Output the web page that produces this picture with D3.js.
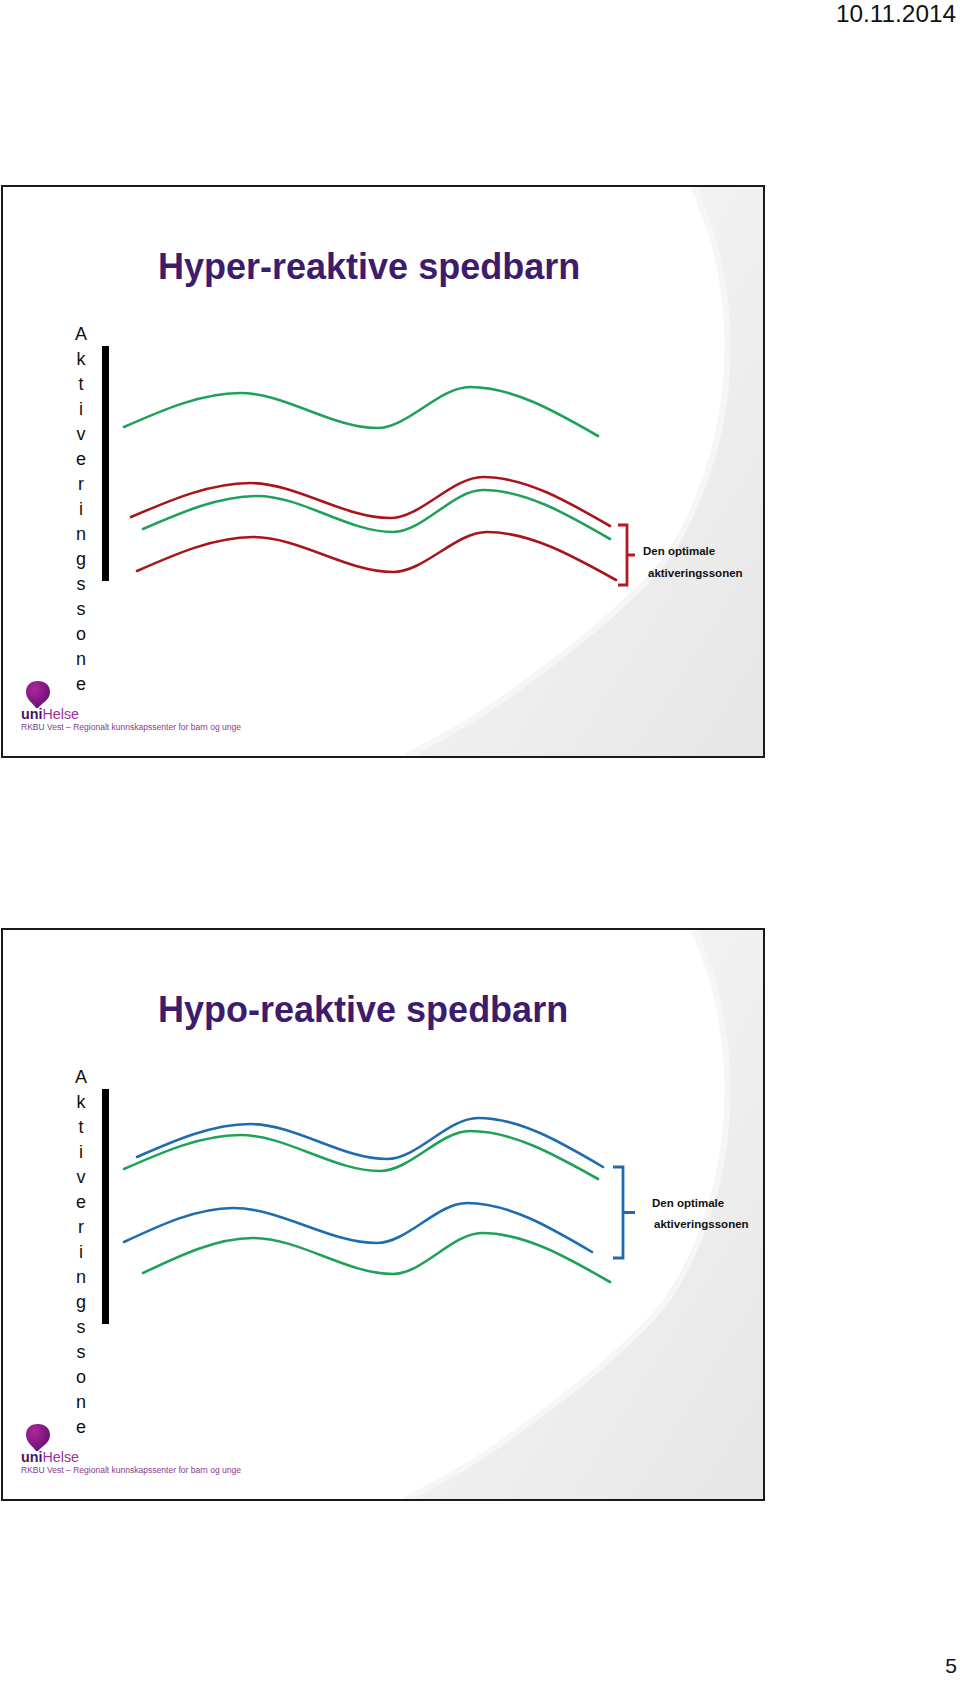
<!DOCTYPE html>
<html><head><meta charset="utf-8">
<script src="https://cdn.jsdelivr.net/npm/d3@7"></script>
<style>html,body{margin:0;padding:0;background:#fff;} svg{display:block;}</style>
</head><body><div id="chart"></div>
<script>
// ---------- texts ----------
const dateLabel = "10.11.2014";
const pageLabel = "5";
const panelTitles = ["Hyper-reaktive spedbarn", "Hypo-reaktive spedbarn"];
const axisLetters = "Aktiveringssone".split("");
const zoneLabels = ["Den optimale", "aktiveringssonen"];
const logoWords = ["uni", "Helse"];
const logoSubtitle = "RKBU Vest \u2013 Regionalt kunnskapssenter for barn og unge";

// ---------- data: [time position (0-500), activation level (0 = foot of axis bar, 235 = top)] ----------
const hyperGreenHigh = [[4,154],[120,188],[257,153],[350,194],[478,145]];
const hyperRedUpper  = [[11,64],[130,98],[270,63],[363,104],[490,55]];
const hyperGreenMid  = [[23,52],[137,85],[273,49],[363,91],[490,42]];
const hyperRedLower  = [[17,10],[133,44],[273,9],[367,49],[496,1]];
const hypoBlueUpper  = [[17,167],[130,200],[267,165],[358,206],[483,157]];
const hypoGreenUpper = [[4,155],[120,189],[260,153],[350,193],[478,145]];
const hypoBlueLower  = [[4,82],[113,116],[257,81],[347,121],[472,72]];
const hypoGreenLower = [[23,51],[133,86],[273,50],[362,91],[490,42]];
const hyperZone = [-4, 56];
const hypoZone  = [66, 157];

// ---------- colours ----------
const GREEN = "#1fa257", RED = "#a8161c", BLUE = "#1e6cb0", TITLE = "#3d1c6e";

const panels = [
  { dy: 0, title: panelTitles[0], series: [[hyperGreenHigh, GREEN],[hyperRedUpper, RED],[hyperGreenMid, GREEN],[hyperRedLower, RED]],
    zone: hyperZone, zoneColor: "#b01c22", brX: [618, 627, 635], labelX: [643, 648], labelDy: [0, 22] },
  { dy: 743, title: panelTitles[1], series: [[hypoBlueUpper, BLUE],[hypoGreenUpper, GREEN],[hypoBlueLower, BLUE],[hypoGreenLower, GREEN]],
    zone: hypoZone, zoneColor: "#1e6cb0", brX: [613, 623, 635], labelX: [652, 654], labelDy: [-5.5, 15.5] }
];

const W = 960, H = 1684;
const svg = d3.select("#chart").append("svg").attr("width", W).attr("height", H)
  .style("font-family", "'Liberation Sans', Arial, sans-serif");
svg.append("rect").attr("width", W).attr("height", H).attr("fill", "#fff");

const defs = svg.append("defs");
const cg = defs.append("linearGradient").attr("id", "curl").attr("x1", "0").attr("y1", "0").attr("x2", "1").attr("y2", "1");
cg.append("stop").attr("offset", "0").attr("stop-color", "#fbfbfb");
cg.append("stop").attr("offset", "0.5").attr("stop-color", "#f0f0f0");
cg.append("stop").attr("offset", "1").attr("stop-color", "#e6e6e6");
const bg = defs.append("radialGradient").attr("id", "balloon").attr("cx", "0.35").attr("cy", "0.3").attr("r", "0.8");
bg.append("stop").attr("offset", "0").attr("stop-color", "#b0279c");
bg.append("stop").attr("offset", "1").attr("stop-color", "#5d0f6e");

// header / footer
svg.append("text").attr("x", 956).attr("y", 22).attr("text-anchor", "end")
  .attr("font-size", 24).attr("fill", "#111").attr("textLength", 120).attr("lengthAdjust", "spacingAndGlyphs").text(dateLabel);
svg.append("text").attr("x", 957).attr("y", 1673).attr("text-anchor", "end")
  .attr("font-size", 21).attr("fill", "#111").text(pageLabel);

const x = d3.scaleLinear().domain([0, 500]).range([120, 620]);
const y = d3.scaleLinear().domain([0, 235]).range([581, 346]);
const line = d3.line().x(d => x(d[0])).y(d => y(d[1])).curve(d3.curveMonotoneX);

const curlPts = [[694,187],[715,247],[727,324],[724,400],[706,477],[669,554],[614,612],[553,662],[479,715],[405,757]];

panels.forEach(p => {
  const g = svg.append("g").attr("transform", `translate(0,${p.dy})`);
  // page curl background
  const curl = d3.line().curve(d3.curveCatmullRom)(curlPts);
  g.append("path").attr("d", curl + " L764,757 L764,187 Z").attr("fill", "url(#curl)");
  g.append("path").attr("d", curl).attr("fill", "none").attr("stroke", "#f6f6f6").attr("stroke-width", 6);
  // frame
  g.append("rect").attr("x", 2).attr("y", 186).attr("width", 762).attr("height", 571)
    .attr("fill", "none").attr("stroke", "#1a1a1a").attr("stroke-width", 2);
  // title
  g.append("text").attr("x", 158).attr("y", 279).attr("font-size", 36).attr("font-weight", "bold")
    .attr("fill", TITLE).text(p.title);
  // vertical axis label
  g.selectAll("text.ax").data(axisLetters).join("text").attr("class", "ax")
    .attr("x", 81).attr("y", (d, i) => 340 + i * 25).attr("text-anchor", "middle")
    .attr("font-size", 18).attr("fill", "#111").text(d => d);
  // axis bar
  g.append("rect").attr("x", 102).attr("y", y(235)).attr("width", 7).attr("height", y(0) - y(235)).attr("fill", "#000");
  // curves
  p.series.forEach(([data, col]) => {
    g.append("path").datum(data).attr("d", line).attr("fill", "none")
      .attr("stroke", col).attr("stroke-width", 2.6).attr("stroke-linecap", "round");
  });
  // bracket
  const yt = y(p.zone[1]), yb = y(p.zone[0]), ym = (yt + yb) / 2;
  const [bx0, bx1, bx2] = p.brX;
  g.append("path").attr("d", `M${bx0},${yt} H${bx1} V${yb} H${bx0} M${bx1},${ym} H${bx2}`)
    .attr("fill", "none").attr("stroke", p.zoneColor).attr("stroke-width", 2.8);
  zoneLabels.forEach((t, i) => {
    g.append("text").attr("x", p.labelX[i]).attr("y", ym + p.labelDy[i]).attr("font-size", 11.5)
      .attr("font-weight", "bold").attr("fill", "#111").text(t);
  });
  // logo
  g.append("path").attr("d", "M36,708 C34,704 26,700 26,692 C26,684 32,681 38,681 C45,681 50,685 50,692 C50,700 42,703 38,708 Z")
    .attr("fill", "url(#balloon)");
  const lt = g.append("text").attr("x", 21).attr("y", 719).attr("font-size", 14).attr("textLength", 58).attr("lengthAdjust", "spacingAndGlyphs");
  lt.append("tspan").attr("font-weight", "bold").attr("fill", "#4a1266").text(logoWords[0]);
  lt.append("tspan").attr("fill", "#a02f9c").text(logoWords[1]);
  g.append("text").attr("x", 21).attr("y", 730).attr("font-size", 8.5).attr("fill", "#8a3a8e")
    .attr("textLength", 220).attr("lengthAdjust", "spacingAndGlyphs").text(logoSubtitle);
});
</script>
</body></html>
